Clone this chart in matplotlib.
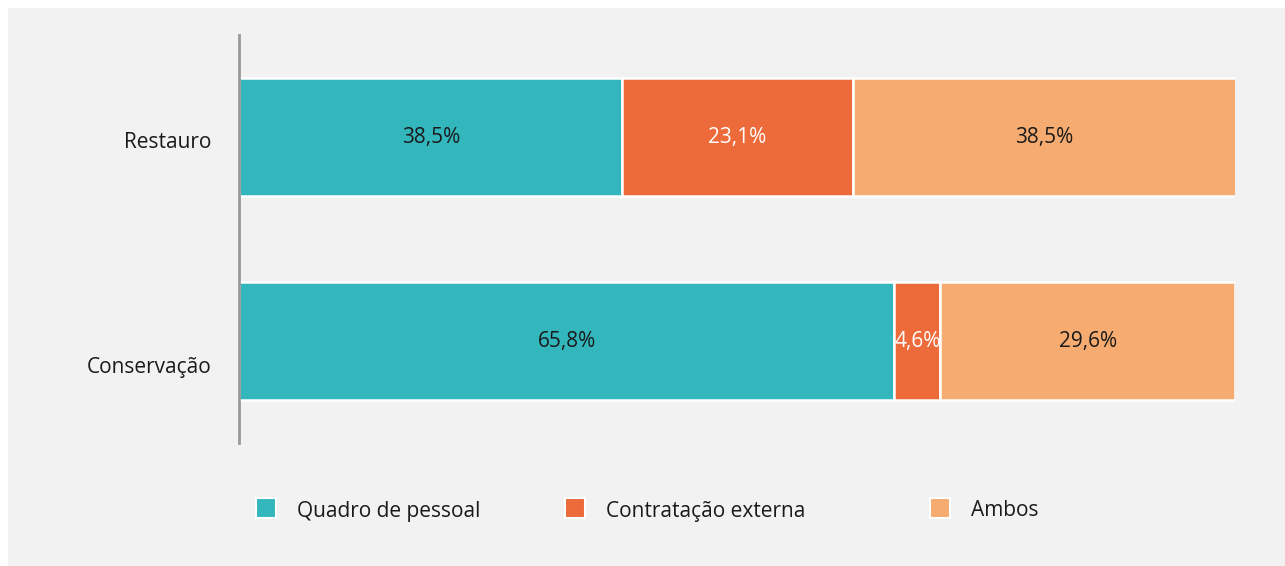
import matplotlib
matplotlib.use("Agg")
import matplotlib.pyplot as plt
from matplotlib.patches import Rectangle
from matplotlib.transforms import ScaledTranslation

plt.rcParams['font.family'] = ['Open Sans', 'DejaVu Sans']

categories = ["Conservação", "Restauro"]
series_names = ["Quadro de pessoal", "Contratação externa", "Ambos"]
quadro = [65.8, 38.5]
contratacao = [4.6, 23.1]
ambos = [29.6, 38.5]
labels_quadro = ["65,8%", "38,5%"]
labels_contratacao = ["4,6%", "23,1%"]
labels_ambos = ["29,6%", "38,5%"]

colors = ["#33b7bd", "#ed6a3a", "#f6ac70"]
text_colors = ["#1a1a1a", "white", "#1a1a1a"]
bg = "#f2f2f2"
fs = 15

W, H = 1285, 566
fig = plt.figure(figsize=(W / 100, H / 100), dpi=100, facecolor="white")
# grey panel
fig.patches.append(Rectangle((8 / W, 0), (W - 8) / W, (H - 8) / H,
                             transform=fig.transFigure, facecolor=bg,
                             edgecolor="none", zorder=-10))

ax = fig.add_axes([239 / W, 1 - 443 / H, (1235 - 239) / W, (443 - 35) / H])
ax.set_facecolor("none")

ypos = list(range(len(categories)))
data = [quadro, contratacao, ambos]
labels = [labels_quadro, labels_contratacao, labels_ambos]
left = [0.0] * len(categories)
for vals, labs, c, tc in zip(data, labels, colors, text_colors):
    ax.barh(ypos, vals, left=left, height=0.575, color=c, edgecolor="white",
            linewidth=1.8)
    for y, l, v, lab in zip(ypos, left, vals, labs):
        ax.text(l + v / 2, y, lab, ha="center", va="center", color=tc,
                fontsize=fs)
    left = [l + v for l, v in zip(left, vals)]

ax.set_xlim(0, 100)
ax.set_ylim(-0.5, 1.5)
ax.set_yticks(ypos)
ax.set_yticklabels(categories, fontsize=fs, color="#1a1a1a")
ax.tick_params(axis="y", length=0, pad=20)
# the reference places the category labels slightly below the bar centres
label_shift_px = [24, 3]
for lab, dy in zip(ax.get_yticklabels(), label_shift_px):
    lab.set_transform(lab.get_transform() +
                      ScaledTranslation(0, -dy / 100, fig.dpi_scale_trans))
ax.set_xticks([])
for s in ["top", "right", "bottom"]:
    ax.spines[s].set_visible(False)
ax.spines["left"].set_color("#9a9a9a")
ax.spines["left"].set_linewidth(2)

# legend
leg_x = [256, 565, 930]
leg_y = 508
sq = 20
for x, name, c in zip(leg_x, series_names, colors):
    fig.patches.append(Rectangle((x / W, 1 - (leg_y + sq / 2) / H), sq / W, sq / H,
                                 transform=fig.transFigure, facecolor=c,
                                 edgecolor="white", linewidth=1.5))
    fig.text((x + 41) / W, 1 - (leg_y + 3) / H, name, ha="left", va="center",
             fontsize=fs, color="#1a1a1a")

fig.savefig("out.png", dpi=100, facecolor=fig.get_facecolor())
